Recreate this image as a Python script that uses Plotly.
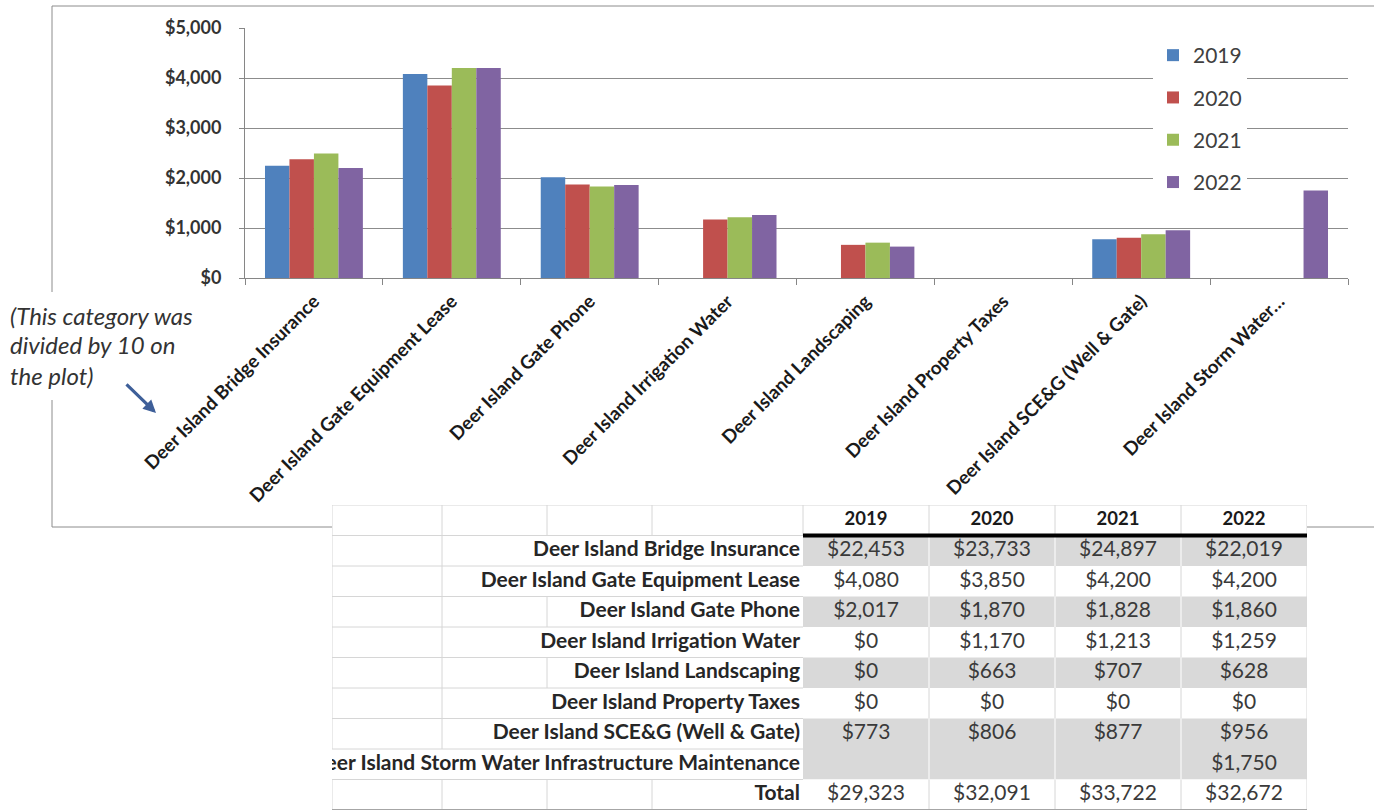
import plotly.graph_objects as go

W, H = 1374, 812
FONT = "Lato"

# ---------------- data ----------------
years = ["2019", "2020", "2021", "2022"]
bar_categories = [
    "Deer Island Bridge Insurance",
    "Deer Island Gate Equipment Lease",
    "Deer Island Gate Phone",
    "Deer Island Irrigation Water",
    "Deer Island Landscaping",
    "Deer Island Property Taxes",
    "Deer Island SCE&G (Well & Gate)",
    "Deer Island Storm Water\u2026",
]
# plotted values (Bridge Insurance divided by 10 on the plot)
bar_2019 = [2245, 4080, 2017, 0, 0, 0, 773, None]
bar_2020 = [2373, 3850, 1870, 1170, 663, 0, 806, None]
bar_2021 = [2490, 4200, 1828, 1213, 707, 0, 877, None]
bar_2022 = [2202, 4200, 1860, 1259, 628, 0, 956, 1750]

table_rows = [
    "Deer Island Bridge Insurance",
    "Deer Island Gate Equipment Lease",
    "Deer Island Gate Phone",
    "Deer Island Irrigation Water",
    "Deer Island Landscaping",
    "Deer Island Property Taxes",
    "Deer Island SCE&G (Well & Gate)",
    "Deer Island Storm Water Infrastructure Maintenance",
    "Total",
]
table_2019 = [22453, 4080, 2017, 0, 0, 0, 773, None, 29323]
table_2020 = [23733, 3850, 1870, 1170, 663, 0, 806, None, 32091]
table_2021 = [24897, 4200, 1828, 1213, 707, 0, 877, None, 33722]
table_2022 = [22019, 4200, 1860, 1259, 628, 0, 956, 1750, 32672]

note_lines = ["(This category was", "divided by 10 on", "the plot)"]

# ---------------- styles ----------------
colors = ["#4F81BD", "#C0504D", "#9BBB59", "#8064A2"]
row_shaded = [True, False, True, False, True, False, True, True, False]
GRAY_FILL = "#d9d9d9"
GRID_LIGHT = "#d6d6d6"
AXIS_GRAY = "#868686"
LABEL_FONT = 21
VALUE_FONT = 21
HEADER_FONT = 18.5


def px_x(p):
    return p / W


def px_y(p):
    return 1 - p / H


fig = go.Figure()

bars = [bar_2019, bar_2020, bar_2021, bar_2022]
for yr, vals, col in zip(years, bars, colors):
    fig.add_trace(go.Bar(
        x=bar_categories, y=vals, name=yr, marker_color=col,
        marker_line_width=0, legendgroup=yr, xaxis="x", yaxis="y",
    ))

# ---------------- table (second, hidden axes) ----------------
label_edges = [0, 110, 215, 320, 471]
year_edges = [471, 597, 723, 849, 975]
n_rows = len(table_rows) + 1  # + header
shapes = []

table_cols = [table_2019, table_2020, table_2021, table_2022]
for r in range(len(table_rows)):
    fill = GRAY_FILL if row_shaded[r] else "white"
    sep = "white" if row_shaded[r] else GRID_LIGHT
    shapes.append(dict(type="rect", xref="x2", yref="y2", x0=year_edges[0], x1=year_edges[-1],
                       y0=r + 1, y1=r + 2, fillcolor=fill, line_width=0, layer="below"))
    for e in year_edges[1:-1]:
        shapes.append(dict(type="line", xref="x2", yref="y2", x0=e, x1=e, y0=r + 1, y1=r + 2,
                           line=dict(color=sep, width=1)))
for e in year_edges[1:-1]:
    shapes.append(dict(type="line", xref="x2", yref="y2", x0=e, x1=e, y0=0, y1=1,
                       line=dict(color=GRID_LIGHT, width=1)))
for r in range(n_rows + 1):
    shapes.append(dict(type="line", xref="x2", yref="y2", x0=label_edges[0], x1=label_edges[-1],
                       y0=r, y1=r, line=dict(color=GRID_LIGHT, width=1)))
# vertical gridlines in label area, hidden where the overflowing label covers them
char_w = 10.0
for r in range(n_rows):
    if r == 0:
        start = 1e9
    else:
        start = label_edges[-1] - 5 - len(table_rows[r - 1]) * char_w
    for e in label_edges:
        if e < start - 3:
            shapes.append(dict(type="line", xref="x2", yref="y2", x0=e, x1=e, y0=r, y1=r + 1,
                               line=dict(color=GRID_LIGHT, width=1)))
shapes.append(dict(type="line", xref="x2", yref="y2", x0=year_edges[0], x1=year_edges[-1], y0=0, y1=0,
                   line=dict(color=GRID_LIGHT, width=1)))
shapes.append(dict(type="line", xref="x2", yref="y2", x0=year_edges[-1], x1=year_edges[-1], y0=0, y1=n_rows,
                   line=dict(color=GRID_LIGHT, width=1)))
shapes.append(dict(type="line", xref="x2", yref="y2", x0=label_edges[0], x1=year_edges[-1], y0=n_rows,
                   y1=n_rows, line=dict(color="#a6a6a6", width=2)))
shapes.append(dict(type="line", xref="x2", yref="y2", x0=year_edges[0], x1=year_edges[-1], y0=1, y1=1,
                   line=dict(color="black", width=4)))

hx = [(year_edges[i] + year_edges[i + 1]) / 2 for i in range(4)]
fig.add_trace(go.Scatter(
    x=hx, y=[0.5] * 4, text=years, mode="text", textposition="middle center",
    textfont=dict(family=FONT, size=HEADER_FONT, color="#1a1a1a", weight="bold"),
    xaxis="x2", yaxis="y2", showlegend=False, hoverinfo="skip", cliponaxis=True,
))
fig.add_trace(go.Scatter(
    x=[label_edges[-1] - 3] * len(table_rows), y=[i + 1.5 for i in range(len(table_rows))],
    text=table_rows, mode="text", textposition="middle left",
    textfont=dict(family=FONT, size=LABEL_FONT, color="#262626", weight="bold"),
    xaxis="x2", yaxis="y2", showlegend=False, hoverinfo="skip", cliponaxis=True,
))
vx, vy, vt = [], [], []
for j, col in enumerate(table_cols):
    for i, v in enumerate(col):
        if v is None:
            continue
        vx.append(hx[j])
        vy.append(i + 1.5)
        vt.append("${:,}".format(v))
fig.add_trace(go.Scatter(
    x=vx, y=vy, text=vt, mode="text", textposition="middle center",
    textfont=dict(family=FONT, size=VALUE_FONT, color="#3a3a3a"),
    xaxis="x2", yaxis="y2", showlegend=False, hoverinfo="skip", cliponaxis=True,
))

# ---------------- chart frame ----------------
frame = dict(color="#8c8c8c", width=1)
for (x0, y0, x1, y1) in [(52, 6, W + 5, 6), (52, 6, 52, 292), (52, 400, 52, 527),
                         (52, 527, 332, 527), (1307, 527, W + 5, 527)]:
    shapes.append(dict(type="line", xref="paper", yref="paper", x0=px_x(x0), y0=px_y(y0),
                       x1=px_x(x1), y1=px_y(y1), line=frame))

annotations = []
for k, line in enumerate(note_lines):
    annotations.append(dict(
        text=line, x=px_x(8), y=px_y(315 + 30 * k), xref="paper", yref="paper",
        xanchor="left", yanchor="middle", showarrow=False,
        font=dict(family=FONT, size=24, color="#333333", style="italic"),
    ))
annotations.append(dict(
    text="", x=px_x(156), y=px_y(413), xref="paper", yref="paper", showarrow=True,
    ax=-31, ay=-30, arrowhead=2, arrowsize=0.8, arrowwidth=3.2, arrowcolor="#3E5F99",
))

fig.update_layout(
    width=W, height=H,
    margin=dict(l=0, r=0, t=0, b=0, autoexpand=False),
    paper_bgcolor="white", plot_bgcolor="white",
    barmode="group", bargap=0.29, bargroupgap=0,
    font=dict(family=FONT),
    xaxis=dict(
        domain=[px_x(245), px_x(1348)], anchor="y", automargin=False,
        showline=True, linecolor=AXIS_GRAY, linewidth=1,
        ticks="outside", tickson="boundaries", ticklen=6, tickcolor=AXIS_GRAY,
        ticklabelstandoff=4,
        tickangle=-45, tickfont=dict(family=FONT, size=18.7, color="#1a1a1a", weight="bold"),
        showgrid=False,
    ),
    yaxis=dict(
        domain=[px_y(278), px_y(28)], anchor="x", range=[0, 5000], dtick=1000, automargin=False,
        tickformat="$,.0f", showgrid=True, gridcolor="#8c8c8c", gridwidth=1,
        showline=True, linecolor=AXIS_GRAY, linewidth=1, zeroline=False,
        ticks="outside", ticklen=5, tickcolor=AXIS_GRAY, ticklabelstandoff=14,
        tickfont=dict(family=FONT, size=18, color="#333333", weight="bold"),
    ),
    xaxis2=dict(domain=[px_x(332), px_x(1307)], anchor="y2", range=[0, 975], visible=False,
                fixedrange=True, automargin=False),
    yaxis2=dict(domain=[px_y(810), px_y(505)], anchor="x2", range=[n_rows, 0], visible=False,
                fixedrange=True, automargin=False),
    legend=dict(
        x=px_x(1153), y=px_y(35), xanchor="left", yanchor="top",
        bgcolor="white", font=dict(family=FONT, size=21, color="#404040"),
        tracegroupgap=12, itemwidth=30,
    ),
    shapes=shapes,
    annotations=annotations,
)

fig.write_html("out.html")
